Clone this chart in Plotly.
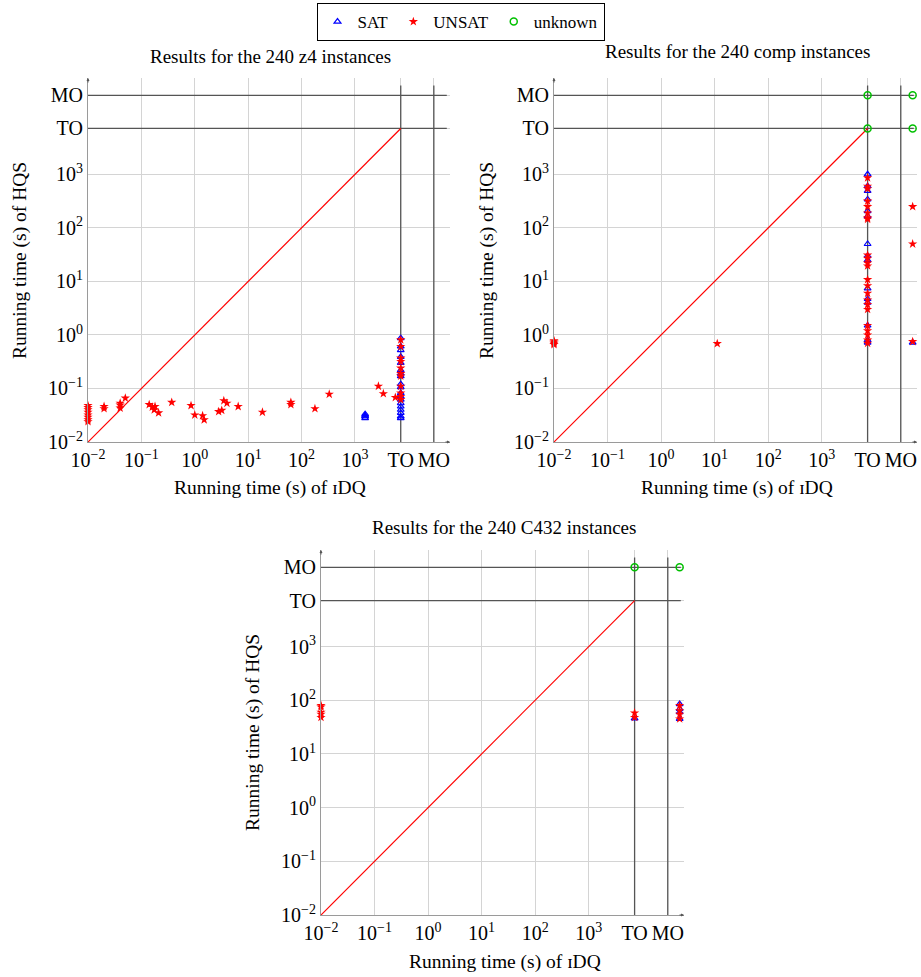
import math
import plotly.graph_objects as go

# ---------------- data ----------------
TO = 7200
MO = 30000
OUT = 50000  # column drawn right of the MO line

tick_vals = [0.01, 0.1, 1, 10, 100, 1000, TO, MO]
tick_text = ["10<sup>−2</sup>", "10<sup>−1</sup>", "10<sup>0</sup>", "10<sup>1</sup>",
             "10<sup>2</sup>", "10<sup>3</sup>", "TO", "MO"]

titles = ["Results for the 240 z4 instances",
          "Results for the 240 comp instances",
          "Results for the 240 C432 instances"]

# z4
z4_sat_x = [1550, 1550, 1550, 1550] + [TO] * 19
z4_sat_y = [0.033, 0.030, 0.028, 0.031,
            0.87, 0.61, 0.52, 0.39, 0.30, 0.22, 0.19, 0.17, 0.12, 0.106, 0.082,
            0.071, 0.062, 0.053, 0.046, 0.040, 0.035, 0.030, 0.028]
z4_unsat_x = ([0.01] * 8 + [0.02, 0.02] + [0.04, 0.04, 0.04] + [0.05]
              + [0.14, 0.16, 0.174, 0.18, 0.21]
              + [0.37, 0.85, 1.0, 1.4, 1.5, 2.8, 3.2, 3.5, 4.0, 6.5, 18.5, 63, 63,
                 178, 330, 2750, 3400, 5700]
              + [TO] * 11)
z4_unsat_y = ([0.048, 0.044, 0.040, 0.036, 0.032, 0.029, 0.026, 0.024]
              + [0.046, 0.042] + [0.053, 0.049, 0.043] + [0.066]
              + [0.050, 0.045, 0.040, 0.046, 0.035]
              + [0.055, 0.048, 0.032, 0.031, 0.026, 0.037, 0.039, 0.059, 0.053,
                 0.046, 0.036, 0.055, 0.050, 0.042, 0.078, 0.11, 0.08, 0.068]
              + [0.81, 0.61, 0.37, 0.32, 0.24, 0.19, 0.17, 0.11, 0.082, 0.071, 0.062])
z4_unk_x = []
z4_unk_y = []

# comp
comp_sat_x = [TO] * 15 + [OUT]
comp_sat_y = [1000, 600, 490, 340, 205, 165, 50, 30, 25, 7.4, 4.7, 4.0, 1.5, 0.8, 0.72, 0.72]
comp_unsat_x = [0.01] * 4 + [11.2] + [TO] * 23 + [OUT] * 3
comp_unsat_y = ([0.78, 0.74, 0.70, 0.66] + [0.69]
                + [860, 600, 540, 316, 250, 190, 155, 145, 31, 27, 22, 19.5, 10.8,
                   8.3, 6.0, 4.5, 3.7, 3.0, 1.5, 1.2, 1.0, 0.8, 0.7]
                + [250, 50, 0.75])
comp_unk_x = [TO, TO, OUT, OUT]
comp_unk_y = [MO, TO, MO, TO]

# C432
c432_sat_x = [TO, OUT, OUT, OUT, OUT]
c432_sat_y = [46, 85, 69, 60, 45]
c432_unsat_x = [0.01] * 5 + [TO, TO] + [OUT] * 4
c432_unsat_y = [80, 75, 60, 55, 48, 58, 48, 80, 64, 55, 45]
c432_unk_x = [TO, OUT]
c432_unk_y = [MO, MO]

panels = [
    (z4_sat_x, z4_sat_y, z4_unsat_x, z4_unsat_y, z4_unk_x, z4_unk_y),
    (comp_sat_x, comp_sat_y, comp_unsat_x, comp_unsat_y, comp_unk_x, comp_unk_y),
    (c432_sat_x, c432_sat_y, c432_unsat_x, c432_unsat_y, c432_unk_x, c432_unk_y),
]

# ---------------- layout geometry ----------------
W, H = 921, 977
FONT = "Liberation Serif"
# plot boxes in pixels: (left, right, top, bottom)
boxes = [(88, 450, 78, 442), (554, 917, 78, 442), (321, 684, 550, 915)]
title_pos = [(270, 56), (737, 51), (504, 527)]
xtitle_pos = [(270, 488), (737, 488), (505, 962)]
ytitle_pos = [(20, 261), (487, 261), (253, 733)]
XR = [-2, 4.78]
YR = [-2, 4.8]
LINE_END_X = 10 ** 4.72
LINE_END_Y = 10 ** 4.66

fig = go.Figure()
annotations = []

for i, (box, data) in enumerate(zip(boxes, panels)):
    sx, sy, ux, uy, kx, ky = data
    n = "" if i == 0 else str(i + 1)
    xa, ya = "x" + n, "y" + n
    l, r, t, b = box
    fig.layout["xaxis" + n] = dict(
        type="log", range=XR, domain=[l / W, r / W], anchor=ya,
        tickvals=tick_vals, ticktext=tick_text, showgrid=True,
        gridcolor="#d4d4d4", gridwidth=1, zeroline=False, automargin=False,
        showline=True, linecolor="#9a9a9a", linewidth=1.2, ticks="",
        tickfont=dict(family=FONT, size=20, color="black"))
    fig.layout["yaxis" + n] = dict(
        type="log", range=YR, domain=[1 - b / H, 1 - t / H], anchor=xa,
        tickvals=tick_vals, ticktext=tick_text, showgrid=True,
        gridcolor="#d4d4d4", gridwidth=1, zeroline=False, automargin=False,
        showline=True, linecolor="#9a9a9a", linewidth=1.2, ticks="",
        tickfont=dict(family=FONT, size=20, color="black"))

    # TO / MO reference lines
    fig.add_trace(go.Scatter(
        x=[0.01, LINE_END_X, None, 0.01, LINE_END_X],
        y=[TO, TO, None, MO, MO], mode="lines",
        line=dict(color="#555555", width=1.3), showlegend=False,
        hoverinfo="skip", xaxis=xa, yaxis=ya))
    fig.add_trace(go.Scatter(
        x=[TO, TO, None, MO, MO],
        y=[0.01, LINE_END_Y, None, 0.01, LINE_END_Y], mode="lines",
        line=dict(color="#555555", width=1.3), showlegend=False,
        hoverinfo="skip", xaxis=xa, yaxis=ya))
    # diagonal
    fig.add_trace(go.Scatter(
        x=[0.01, TO], y=[0.01, TO], mode="lines",
        line=dict(color="#ff0000", width=1.2), showlegend=False,
        hoverinfo="skip", xaxis=xa, yaxis=ya))

    fig.add_trace(go.Scatter(
        x=sx, y=sy, mode="markers", name="SAT", showlegend=(i == 0),
        marker=dict(symbol="triangle-up-open", size=6, color="blue",
                    line=dict(width=1.2, color="blue")),
        xaxis=xa, yaxis=ya, cliponaxis=False))
    fig.add_trace(go.Scatter(
        x=ux, y=uy, mode="markers", name="UNSAT", showlegend=(i == 0),
        marker=dict(symbol="star", size=7, color="red",
                    line=dict(width=0, color="red")),
        xaxis=xa, yaxis=ya, cliponaxis=False))
    fig.add_trace(go.Scatter(
        x=kx if kx else [None], y=ky if ky else [None], mode="markers",
        name="unknown", showlegend=(i == 0),
        marker=dict(symbol="circle-open", size=7, color="#00c000",
                    line=dict(width=1.5, color="#00c000")),
        xaxis=xa, yaxis=ya, cliponaxis=False))

    # axis arrows
    annotations.append(dict(x=XR[1], y=YR[0], xref=xa, yref=ya, text="",
                            showarrow=True, arrowhead=2, arrowsize=0.6,
                            arrowwidth=1, arrowcolor="#555555", ax=-6, ay=0))
    annotations.append(dict(x=XR[0], y=YR[1], xref=xa, yref=ya, text="",
                            showarrow=True, arrowhead=2, arrowsize=0.6,
                            arrowwidth=1, arrowcolor="#555555", ax=0, ay=6))

    tx, ty = title_pos[i]
    annotations.append(dict(x=tx / W, y=1 - ty / H, xref="paper", yref="paper",
                            text=titles[i], showarrow=False, xanchor="center",
                            yanchor="middle",
                            font=dict(family=FONT, size=19, color="black")))
    tx, ty = xtitle_pos[i]
    annotations.append(dict(x=tx / W, y=1 - ty / H, xref="paper", yref="paper",
                            text="Running time (s) of ɪDQ", showarrow=False,
                            xanchor="center", yanchor="middle",
                            font=dict(family=FONT, size=19.5, color="black")))
    tx, ty = ytitle_pos[i]
    annotations.append(dict(x=tx / W, y=1 - ty / H, xref="paper", yref="paper",
                            text="Running time (s) of HQS", showarrow=False,
                            textangle=-90, xanchor="center", yanchor="middle",
                            font=dict(family=FONT, size=19.5, color="black")))

fig.update_layout(
    width=W, height=H, margin=dict(l=0, r=0, t=0, b=0),
    paper_bgcolor="white", plot_bgcolor="white",
    annotations=annotations,
    legend=dict(orientation="h", x=0.5, xanchor="center", y=1 - 3 / H,
                yanchor="top", bordercolor="black", borderwidth=1,
                font=dict(family=FONT, size=17, color="black"),
                itemwidth=30, tracegroupgap=0),
)

fig.write_html("out.html")
